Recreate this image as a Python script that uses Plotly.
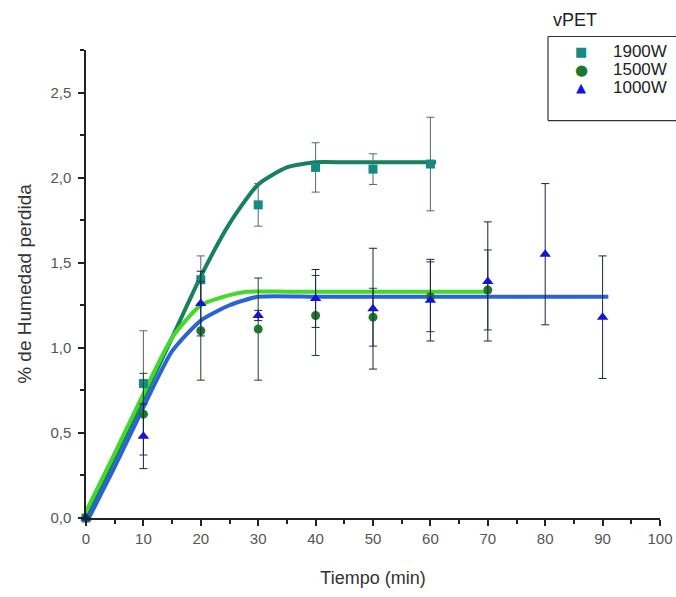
import plotly.graph_objects as go

# ---- measured data ----
t1900 = [0, 10, 20, 30, 40, 50, 60]
h1900 = [0.0, 0.79, 1.40, 1.84, 2.06, 2.05, 2.08]
e1900 = [0.0, 0.31, 0.14, 0.125, 0.145, 0.09, 0.275]

t1500 = [0, 10, 20, 30, 40, 50, 60, 70]
h1500 = [0.0, 0.61, 1.10, 1.11, 1.19, 1.18, 1.30, 1.34]
e1500 = [0.0, 0.24, 0.29, 0.30, 0.235, 0.17, 0.205, 0.235]

t1000 = [0, 10, 20, 30, 40, 50, 60, 70, 80, 90]
h1000 = [0.0, 0.48, 1.26, 1.19, 1.29, 1.23, 1.28, 1.39, 1.55, 1.18]
e1000 = [0.0, 0.19, 0.19, 0.03, 0.17, 0.355, 0.24, 0.35, 0.415, 0.36]

# ---- fitted curves ----
fit1900_x = [0, 5, 10, 15, 20, 25, 30, 35, 40, 45, 50, 55, 61]
fit1900_y = [0.0, 0.35, 0.70, 1.06, 1.42, 1.73, 1.96, 2.06, 2.09, 2.09, 2.09, 2.09, 2.09]

fit1500_x = [-1, 5, 10, 15, 20, 25, 28, 35, 45, 55, 65, 70.5]
fit1500_y = [-0.03, 0.38, 0.73, 1.06, 1.25, 1.31, 1.33, 1.33, 1.33, 1.33, 1.33, 1.33]

fit1000_x = [0.5, 5, 10, 15, 20, 25, 30, 40, 50, 60, 70, 80, 91]
fit1000_y = [0.0, 0.30, 0.65, 0.98, 1.16, 1.25, 1.30, 1.30, 1.30, 1.30, 1.30, 1.30, 1.30]

series_names = ["1900W", "1500W", "1000W"]
legend_symbols = ["\u25A0", "\u25CF", "\u25B2"]
marker_colors = ["#178a84", "#1d7a2c", "#1414d6"]
x_ticks = [0, 10, 20, 30, 40, 50, 60, 70, 80, 90, 100]

FONT = "Liberation Sans, Arial, sans-serif"

# pixel helpers for paper placement of legend box (plot area 86..660 x, 50.5..518 y)
def px_x(p):
    return (p - 86) / 574.0

def px_y(p):
    return (518 - p) / 467.5

fig = go.Figure()

# fitted lines
fig.add_trace(go.Scatter(x=fit1900_x, y=fit1900_y, mode="lines", showlegend=False,
                         line=dict(color="#17805c", width=4, shape="spline", smoothing=0.6),
                         cliponaxis=False, hoverinfo="skip"))
fig.add_trace(go.Scatter(x=fit1500_x, y=fit1500_y, mode="lines", showlegend=False,
                         line=dict(color="#44d82c", width=4, shape="spline", smoothing=0.6),
                         cliponaxis=False, hoverinfo="skip"))
fig.add_trace(go.Scatter(x=fit1000_x, y=fit1000_y, mode="lines", showlegend=False,
                         line=dict(color="#2b63d6", width=4, shape="spline", smoothing=0.6),
                         cliponaxis=False, hoverinfo="skip"))

# data points
fig.add_trace(go.Scatter(x=t1900, y=h1900, mode="markers", name=series_names[0], showlegend=False,
                         marker=dict(symbol="square", size=9, color=marker_colors[0]),
                         error_y=dict(type="data", array=e1900, color="#4d6b68", thickness=1, width=4),
                         cliponaxis=False))
fig.add_trace(go.Scatter(x=t1500, y=h1500, mode="markers", name=series_names[1], showlegend=False,
                         marker=dict(symbol="circle", size=9, color=marker_colors[1]),
                         error_y=dict(type="data", array=e1500, color="#22402a", thickness=1, width=4),
                         cliponaxis=False))
fig.add_trace(go.Scatter(x=t1000, y=h1000, mode="markers", name=series_names[2], showlegend=False,
                         marker=dict(symbol="triangle-up", size=10, color=marker_colors[2]),
                         error_y=dict(type="data", array=e1000, color="#1c2248", thickness=1, width=4),
                         cliponaxis=False))

axis_common = dict(
    showline=True, linecolor="#222", linewidth=1.5,
    ticks="outside", ticklen=6, tickwidth=1.5, tickcolor="#222",
    showgrid=False, zeroline=False,
    tickfont=dict(family=FONT, size=15, color="#555"),
)

fig.update_xaxes(range=[0, 100], tickvals=x_ticks,
                 minor=dict(dtick=5, ticks="outside", ticklen=4, tickwidth=1.5, tickcolor="#222"),
                 title=dict(text="Tiempo (min)", font=dict(family=FONT, size=18, color="#333"), standoff=26),
                 **axis_common)
fig.update_yaxes(range=[0, 2.75], dtick=0.5, tickformat=".1f", ticklabelstandoff=4,
                 minor=dict(dtick=0.25, ticks="outside", ticklen=4, tickwidth=1.5, tickcolor="#222"),
                 title=dict(text="% de Humedad perdida", font=dict(family=FONT, size=19, color="#333"), standoff=14),
                 **axis_common)

# legend (drawn as an open box + text, like the cropped original)
box_l, box_r, box_t, box_b = px_x(548), px_x(676), px_y(37), px_y(121)
for (xa, ya, xb, yb) in [(box_l, box_t, box_r, box_t), (box_l, box_b, box_r, box_b), (box_l, box_b, box_l, box_t)]:
    fig.add_shape(type="line", xref="paper", yref="paper", x0=xa, y0=ya, x1=xb, y1=yb,
                  line=dict(color="#333", width=1.2))
fig.add_annotation(text="vPET", xref="paper", yref="paper", x=px_x(551), y=px_y(21),
                   xanchor="left", yanchor="middle", showarrow=False,
                   font=dict(family=FONT, size=18, color="#222"))
row_y = [52, 70, 88]
sym_sizes = [13, 15, 13]
for name, sym, col, ry, ss in zip(series_names, legend_symbols, marker_colors, row_y, sym_sizes):
    fig.add_annotation(text=sym, xref="paper", yref="paper", x=px_x(581), y=px_y(ry),
                       xanchor="center", yanchor="middle", showarrow=False,
                       font=dict(family="DejaVu Sans", size=ss, color=col))
    fig.add_annotation(text=name, xref="paper", yref="paper", x=px_x(611), y=px_y(ry),
                       xanchor="left", yanchor="middle", showarrow=False,
                       font=dict(family=FONT, size=17, color="#222"))

fig.update_layout(
    width=676, height=597,
    margin=dict(l=86, r=16, t=50, b=79, autoexpand=False),
    paper_bgcolor="white", plot_bgcolor="white",
    separators=",.",
    font=dict(family=FONT, color="#222"),
    showlegend=False,
)

fig.write_html("out.html")
